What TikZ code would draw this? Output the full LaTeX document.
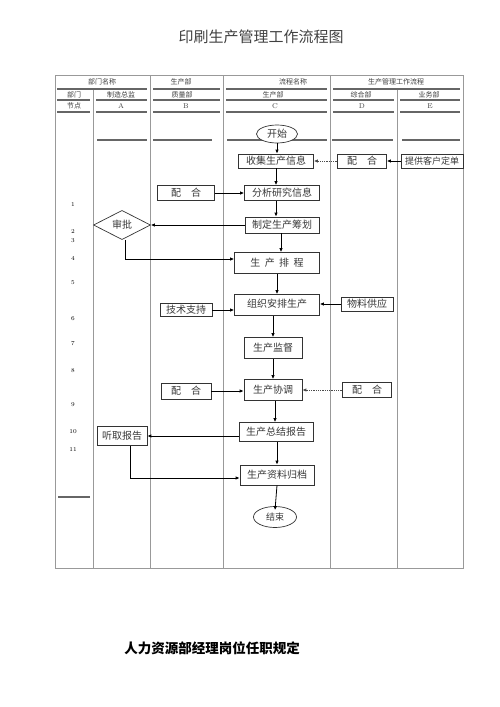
\documentclass[tikz,border=0pt]{standalone}
\usepackage{fontspec}
\newfontfamily\cjk{Noto Sans CJK SC}
\usetikzlibrary{calc,shapes.geometric,arrows.meta}
\tikzset{
	grid/.style={line width=0.6pt, color=black!40},
	cellline/.style={line width=1.1pt, color=black!60},
	head/.style={font=\cjk\fontsize{7}{7}\selectfont, color=black!75, inner sep=0pt},
	box/.style={draw=black!80, line width=0.7pt, fill=white, inner sep=0pt, text=black!78, font=\cjk\fontsize{10}{10}\selectfont},
	endpt/.style={ellipse, draw=black!80, line width=0.7pt, fill=white, inner sep=0pt, text=black!78, font=\cjk\fontsize{10}{10}\selectfont},
	check/.style={diamond, draw=black!80, line width=0.7pt, fill=white, inner sep=0pt, text=black!78, font=\cjk\fontsize{10}{10}\selectfont},
	arr/.style={line width=0.8pt, -{Latex[length=4pt,width=3.5pt]}},
	darr/.style={arr, densely dotted, color=black!70},
	num/.style={font=\fontsize{6}{6}\selectfont, inner sep=0pt}
}
\begin{document}
\begin{tikzpicture}[x=1pt, y=-1pt]
			%%%%% START %%%%%
			\useasboundingbox (0, 0) rectangle (500, 707);
			
			\node[font=\cjk\fontsize{15}{15}\selectfont, color=black!75] (title) at (261, 37) {印刷生产管理工作流程图};
			
			% table frame
			\draw[grid] (55, 75) rectangle (463, 568);
			\draw[grid] (93, 89) -- (93, 568);
			\draw[grid] (150, 75) -- (150, 568);
			\draw[grid] (223, 75) -- (223, 568);
			\draw[grid] (330, 75) -- (330, 568);
			\draw[grid] (397, 89) -- (397, 568);
			
			\draw[cellline] (57, 89) -- (147, 89);
			\draw[cellline] (153, 89) -- (220, 89);
			\draw[cellline] (226, 89) -- (327, 89);
			\draw[cellline] (333, 89) -- (460, 89);
			\foreach \y in {100, 112} {
				\draw[cellline] (57, \y) -- (90, \y);
				\draw[cellline] (96, \y) -- (147, \y);
				\draw[cellline] (153, \y) -- (220, \y);
				\draw[cellline] (226, \y) -- (327, \y);
				\draw[cellline] (333, \y) -- (394, \y);
				\draw[cellline] (400, \y) -- (460, \y);
			}
			\draw[cellline] (97, 140) -- (147, 140);
			\draw[cellline] (153, 140) -- (212, 140);
			\draw[cellline] (227, 140) -- (327, 140);
			\draw[cellline] (332, 140) -- (393, 140);
			\draw[cellline] (402, 140) -- (460, 140);
			\draw[cellline] (58, 497) -- (90, 497);
			
			% header
			\node[head] (h1) at (102, 82) {部门名称};
			\node[head] (h2) at (181, 82) {生产部};
			\node[head] (h3) at (293, 82) {流程名称};
			\node[head] (h4) at (396, 82) {生产管理工作流程};
			\node[head] (d0) at (74, 94.5) {部门};
			\node[head] (d1) at (121, 94.5) {制造总监};
			\node[head] (d2) at (182, 94.5) {质量部};
			\node[head] (d3) at (273, 94.5) {生产部};
			\node[head] (d4) at (361, 94.5) {综合部};
			\node[head] (d5) at (429, 94.5) {业务部};
			\node[head] (n0) at (74, 106) {节点};
			\node[head, font=\fontsize{7}{7}\selectfont] (nA) at (121, 106) {A};
			\node[head, font=\fontsize{7}{7}\selectfont] (nB) at (186, 106) {B};
			\node[head, font=\fontsize{7}{7}\selectfont] (nC) at (275, 106) {C};
			\node[head, font=\fontsize{7}{7}\selectfont] (nD) at (362, 106) {D};
			\node[head, font=\fontsize{7}{7}\selectfont] (nE) at (430, 106) {E};
			
			% step numbers
			\foreach \n/\y in {1/205, 2/232, 3/241, 4/258, 5/283, 6/319, 7/344, 8/371, 9/405, 10/432, 11/449}
				\node[num] (s\n) at (73, \y) {\n};
			
			% column C
			\node[endpt, minimum width=41, minimum height=18] (start) at (277, 134) {开始};
			\node[box, minimum width=75, minimum height=14] (collect) at (276, 161) {收集生产信息};
			\node[box, minimum width=75, minimum height=15] (analyse) at (282, 193) {分析研究信息};
			\node[box, minimum width=74, minimum height=16] (plan) at (282, 225) {制定生产筹划};
			\node[box, minimum width=85, minimum height=21] (sched) at (277, 263) {生\ \ 产\ \ 排\ \ 程};
			\node[box, minimum width=85, minimum height=21] (organise) at (277, 305) {\raisebox{3pt}{组织安排生产}};
			\node[box, minimum width=58, minimum height=21] (supervise) at (273, 348) {生产监督};
			\node[box, minimum width=58, minimum height=21] (coord) at (273, 390) {生产协调};
			\node[box, minimum width=74, minimum height=19] (summary) at (276, 432) {生产总结报告};
			\node[box, minimum width=74, minimum height=20] (archive) at (277, 475) {生产资料归档};
			\node[endpt, minimum width=43, minimum height=21, font=\cjk\fontsize{9}{9}\selectfont] (finish) at (275, 517) {结束};
			
			% column A
			\node[check, minimum width=57, minimum height=28] (approve) at (122, 225) {审批};
			\node[box, minimum width=50, minimum height=19] (listen) at (122, 436) {听取报告};
			
			% column B
			\node[box, minimum width=57, minimum height=15] (coopB1) at (186, 193) {配\quad 合};
			\node[box, minimum width=52, minimum height=13] (tech) at (186, 310) {技术支持};
			\node[box, minimum width=50, minimum height=16] (coopB2) at (186, 391) {配\quad 合};
			
			% column D
			\node[box, minimum width=49, minimum height=14] (coopD1) at (362, 161) {配\quad 合};
			\node[box, minimum width=52, minimum height=14] (material) at (367, 304) {物料供应};
			\node[box, minimum width=49, minimum height=15] (coopD2) at (367, 390) {配\quad 合};
			
			% column E
			\node[box, minimum width=62, minimum height=14, font=\cjk\fontsize{9}{9}\selectfont] (order) at (432, 161) {提供客户定单};
			
			% arrows
			\draw[arr] (start.south) -- (start.south |- collect.north);
			\draw[arr] (order.west) -- (coopD1.east);
			\draw[darr] (coopD1.west) -- (collect.east);
			\draw[arr] (collect.south) -- (collect.south |- analyse.north);
			\draw[arr] (coopB1.east) -- (analyse.west);
			\draw[arr] (collect.south |- analyse.south) -- (collect.south |- plan.north);
			\draw[arr] (plan.west) -- (approve.east);
			\draw[arr] ([xshift=3pt]approve.south) |- ([yshift=4pt]sched.west);
			\draw[arr] ([xshift=-1pt]plan.south) -- ([xshift=-1pt]plan.south |- sched.north);
			\draw[arr] (sched.south) -- (sched.south |- organise.north);
			\draw[arr] (tech.east) -- (tech.east -| organise.west);
			\draw[arr] (material.west) -- (material.west -| organise.east);
			\draw[arr] (supervise.north |- organise.south) -- (supervise.north);
			\draw[arr] (supervise.south) -- (coord.north);
			\draw[arr] (coopB2.east) -- (coopB2.east -| coord.west);
			\draw[darr] (coopD2.west) -- (coord.east);
			\draw[arr] ([xshift=2pt]coord.south) -- ([xshift=2pt]coord.south |- summary.north);
			\draw[arr] (summary.west |- listen.east) -- (listen.east);
			\draw[arr] (archive.north |- summary.south) -- (archive.north);
			\draw[arr] ([xshift=8pt]listen.south) |- ([yshift=-3pt]archive.west);
			\draw[arr] (archive.south) -- ([yshift=-4pt]finish.north);
			
			\node[font=\cjk\bfseries\fontsize{13.5}{13.5}\selectfont] (rules) at (212, 648) {人力资源部经理岗位任职规定};
			%%%%% END %%%%%
\end{tikzpicture}
\end{document}
